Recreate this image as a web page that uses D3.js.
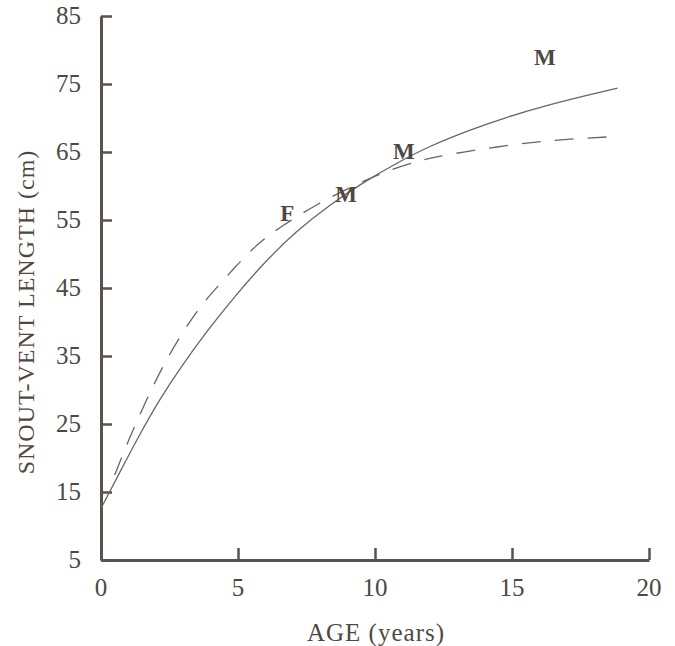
<!DOCTYPE html>
<html>
<head>
<meta charset="utf-8">
<script src="https://cdn.jsdelivr.net/npm/d3@7"></script>
<style>
    body { margin: 0; background: #fff; }
    text { font-family: "Liberation Serif", "Times New Roman", serif; fill: #4f4842; }
</style>
</head>
<body>
<div id="chart"></div>
<script>
// values
const solidAge = [0, 0.7, 1.4, 2.15, 2.9, 3.85, 4.85, 5.9, 7.1, 8.4, 9.6, 10.8, 12.0, 13.5, 14.7, 16.3, 17.7, 18.85];
const solidLen = [12.6, 18.0, 23.4, 28.7, 33.3, 38.6, 43.6, 48.5, 53.3, 57.4, 60.6, 63.4, 65.9, 68.3, 70.0, 71.9, 73.3, 74.4];

const dashAge = [0.5, 1.0, 1.55, 2.15, 2.8, 3.6, 4.1, 4.85, 5.7, 6.55, 7.9, 9.35, 10.4, 11.6, 12.25, 13.2, 14.7, 16.1, 17.5, 18.9];
const dashLen = [17.5, 22.6, 27.6, 32.7, 37.4, 42.2, 44.5, 47.9, 51.5, 54.0, 57.4, 60.3, 62.2, 63.7, 64.3, 65.0, 65.9, 66.6, 67.0, 67.3];

const markLabel = ["F", "M", "M", "M"];
const markAge = [6.8, 8.95, 11.05, 16.2];
const markLen = [56.0, 58.8, 65.2, 79.0];

const xTicks = [0, 5, 10, 15, 20];
const yTicks = [5, 15, 25, 35, 45, 55, 65, 75, 85];

const width = 675, height = 646;
const axisColor = "#5a524b";
const lineColor = "#6a6560";

const svg = d3.select("#chart").append("svg")
    .attr("width", width)
    .attr("height", height);

const x = d3.scaleLinear().domain([0, 20]).range([101, 649]);
const y = d3.scaleLinear().domain([5, 85]).range([560, 16]);

// x axis: ticks pointing up into the plot
const xAxis = svg.append("g")
    .attr("transform", "translate(0," + y(5) + ")")
    .call(d3.axisTop(x).tickValues(xTicks).tickSize(12).tickSizeOuter(0).tickFormat(""));
xAxis.select(".domain").attr("stroke", axisColor).attr("stroke-width", 3);
xAxis.selectAll(".tick line").attr("stroke", axisColor).attr("stroke-width", 2.5);

// y axis: ticks pointing right
const yAxis = svg.append("g")
    .attr("transform", "translate(" + x(0) + ",0)")
    .call(d3.axisRight(y).tickValues(yTicks).tickSize(11).tickSizeOuter(0).tickFormat(""));
yAxis.select(".domain").attr("stroke", axisColor).attr("stroke-width", 3);
yAxis.selectAll(".tick line").attr("stroke", axisColor).attr("stroke-width", 2.5);

// tick labels
svg.selectAll(".xlab")
    .data(xTicks)
    .enter().append("text")
    .attr("x", d => x(d))
    .attr("y", 596)
    .attr("text-anchor", "middle")
    .style("font-size", "25px")
    .text(d => d);

svg.selectAll(".ylab")
    .data(yTicks)
    .enter().append("text")
    .attr("x", 81)
    .attr("y", d => y(d) + 8)
    .attr("text-anchor", "end")
    .style("font-size", "25px")
    .text(d => d);

// axis titles
svg.append("text")
    .attr("x", 376)
    .attr("y", 641)
    .attr("text-anchor", "middle")
    .style("font-size", "25px")
    .style("letter-spacing", "1px")
    .text("AGE (years)");

svg.append("text")
    .attr("transform", "translate(34,312) rotate(-90)")
    .attr("text-anchor", "middle")
    .style("font-size", "24px")
    .style("letter-spacing", "1px")
    .text("SNOUT-VENT LENGTH (cm)");

// growth curves
const line = d3.line()
    .x(d => x(d[0]))
    .y(d => y(d[1]))
    .curve(d3.curveBasis);

svg.append("path")
    .attr("d", line(d3.zip(solidAge, solidLen)))
    .attr("fill", "none")
    .attr("stroke", lineColor)
    .attr("stroke-width", 1.3);

svg.append("path")
    .attr("d", line(d3.zip(dashAge, dashLen)))
    .attr("fill", "none")
    .attr("stroke", lineColor)
    .attr("stroke-width", 1.3)
    .attr("stroke-dasharray", "19,14");

// sample letters
svg.selectAll(".mark")
    .data(d3.range(markLabel.length))
    .enter().append("text")
    .attr("x", i => x(markAge[i]))
    .attr("y", i => y(markLen[i]) + 8)
    .attr("text-anchor", "middle")
    .style("font-size", "23px")
    .style("font-weight", "bold")
    .text(i => markLabel[i]);
</script>
</body>
</html>
